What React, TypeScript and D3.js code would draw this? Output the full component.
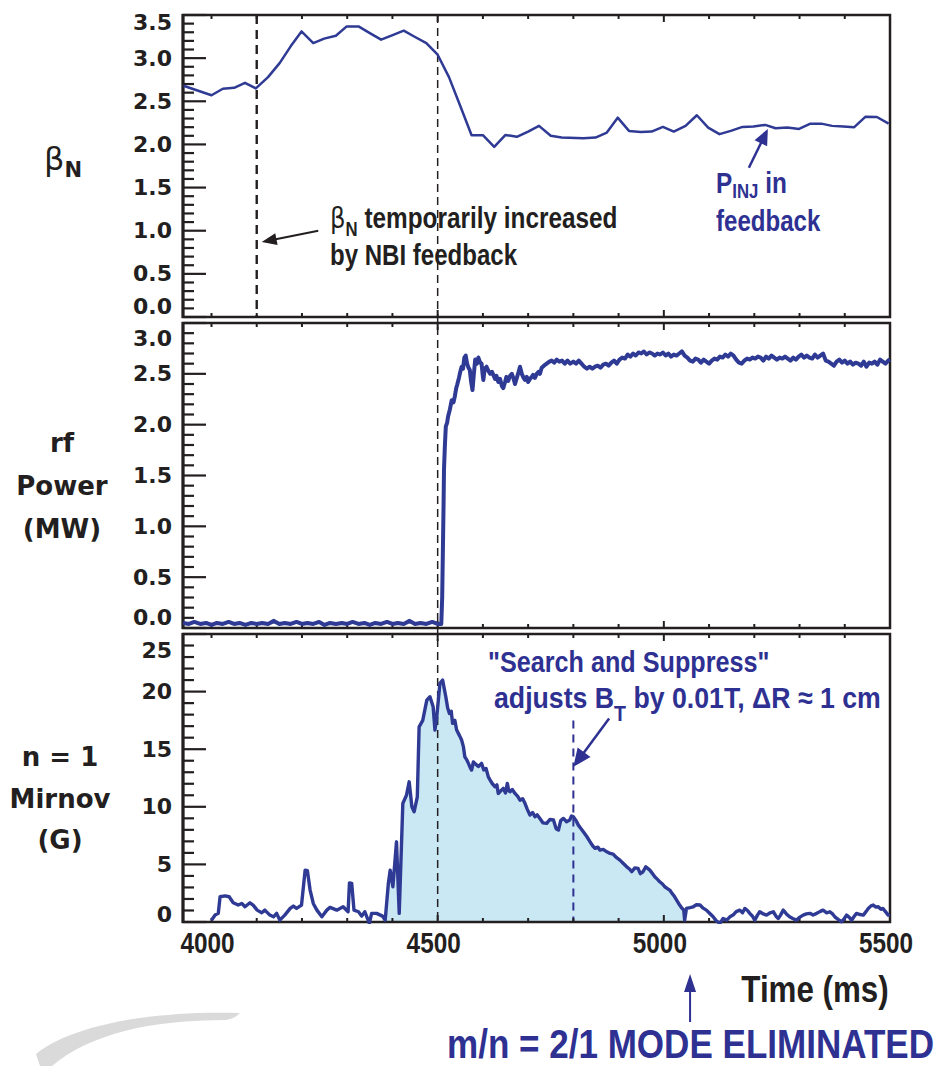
import React from 'react';
import * as d3 from 'd3';

// ---------------- data ----------------
const timeTickLabels = [4000, 4500, 5000, 5500];
const timeMinorTicks = [4000, 4100, 4200, 4300, 4400, 4500, 4600, 4700, 4800, 4900, 5000, 5100, 5200, 5300, 5400];
const timeMajorTicks = [4500, 5000];
const betaTicks = [0, 0.5, 1.0, 1.5, 2.0, 2.5, 3.0, 3.5];
const rfTicks = [0, 0.5, 1.0, 1.5, 2.0, 2.5, 3.0];
const mirnovTicks = [0, 5, 10, 15, 20, 25];

const betaN: [number, number][] = [
  [3938, 2.68], [4000, 2.57], [4025, 2.645], [4050, 2.656], [4074, 2.714], [4098, 2.649],
  [4125, 2.78], [4151, 2.945], [4175, 3.137], [4199, 3.31], [4225, 3.175], [4249, 3.226],
  [4275, 3.26], [4299, 3.368], [4325, 3.368], [4350, 3.29], [4375, 3.214], [4399, 3.264],
  [4425, 3.318], [4450, 3.245], [4475, 3.175], [4500, 3.04], [4525, 2.78], [4550, 2.445],
  [4575, 2.107], [4600, 2.107], [4625, 1.972], [4650, 2.11], [4675, 2.088], [4700, 2.149],
  [4724, 2.215], [4750, 2.1], [4774, 2.08], [4822, 2.073], [4849, 2.08], [4874, 2.137],
  [4898, 2.31], [4923, 2.157], [4949, 2.145], [4973, 2.149], [4998, 2.203], [5022, 2.149],
  [5048, 2.215], [5073, 2.338], [5098, 2.195], [5123, 2.119], [5148, 2.157], [5174, 2.203],
  [5198, 2.207], [5224, 2.226], [5247, 2.188], [5273, 2.195], [5299, 2.18], [5324, 2.241],
  [5348, 2.241], [5372, 2.215], [5397, 2.207], [5421, 2.2], [5446, 2.322], [5471, 2.318],
  [5497, 2.241],
];

const rfPower: [number, number][] = [
  [3937, 0.05], [3950, 0.04], [3962, 0.06], [3975, 0.04], [3988, 0.05], [4000, 0.03], [4012, 0.05],
  [4025, 0.04], [4038, 0.06], [4050, 0.04], [4062, 0.05], [4075, 0.03], [4088, 0.05], [4100, 0.04],
  [4112, 0.05], [4125, 0.04], [4138, 0.07], [4150, 0.04], [4162, 0.05], [4175, 0.04], [4188, 0.06],
  [4200, 0.04], [4212, 0.05], [4225, 0.04], [4238, 0.06], [4250, 0.03], [4262, 0.05], [4275, 0.04],
  [4288, 0.05], [4300, 0.04], [4312, 0.06], [4325, 0.04], [4338, 0.05], [4350, 0.03], [4362, 0.05],
  [4375, 0.04], [4388, 0.06], [4400, 0.04], [4412, 0.05], [4425, 0.04], [4438, 0.07], [4450, 0.04],
  [4462, 0.05], [4475, 0.04], [4488, 0.06], [4500, 0.04], [4508, 0.04],
  [4510, 0.3], [4511, 0.6], [4513, 1.2], [4514, 1.56], [4516, 1.8], [4518, 1.98], [4521, 2.02],
  [4523, 2.08], [4527, 2.15], [4531, 2.24], [4535, 2.22], [4538, 2.28], [4541, 2.36], [4543, 2.39],
  [4547, 2.46], [4550, 2.52], [4553, 2.57], [4556, 2.55], [4559, 2.66], [4562, 2.68], [4565, 2.6],
  [4568, 2.56], [4571, 2.54], [4574, 2.42], [4577, 2.34], [4580, 2.5], [4583, 2.64], [4587, 2.6],
  [4590, 2.66], [4594, 2.61], [4597, 2.6], [4600, 2.47], [4601, 2.44], [4604, 2.55], [4608, 2.57],
  [4612, 2.53], [4616, 2.5], [4620, 2.52], [4623, 2.49], [4627, 2.45], [4630, 2.48], [4634, 2.42],
  [4638, 2.45], [4642, 2.38], [4645, 2.36], [4649, 2.42], [4652, 2.47], [4656, 2.43], [4660, 2.48],
  [4664, 2.5], [4668, 2.45], [4671, 2.4], [4675, 2.46], [4679, 2.52], [4682, 2.57], [4686, 2.5],
  [4690, 2.46], [4693, 2.44], [4697, 2.47], [4700, 2.42], [4704, 2.45], [4708, 2.47], [4711, 2.49],
  [4715, 2.46], [4719, 2.5], [4723, 2.52], [4726, 2.5], [4730, 2.56], [4735, 2.58], [4741, 2.6],
  [4747, 2.62], [4752, 2.63], [4758, 2.61], [4763, 2.64], [4769, 2.62], [4775, 2.63], [4781, 2.6],
  [4787, 2.63], [4793, 2.6], [4800, 2.62], [4806, 2.6], [4812, 2.63], [4818, 2.6], [4824, 2.57],
  [4830, 2.55], [4836, 2.57], [4842, 2.55], [4848, 2.57], [4854, 2.58], [4860, 2.56], [4866, 2.59],
  [4872, 2.6], [4878, 2.58], [4884, 2.61], [4890, 2.63], [4896, 2.6], [4902, 2.64], [4908, 2.66],
  [4914, 2.65], [4920, 2.69], [4926, 2.67], [4932, 2.7], [4938, 2.68], [4944, 2.71], [4950, 2.7],
  [4956, 2.72], [4962, 2.69], [4968, 2.71], [4974, 2.7], [4980, 2.68], [4986, 2.7], [4992, 2.69],
  [4998, 2.71], [5004, 2.68], [5010, 2.7], [5016, 2.67], [5022, 2.69], [5028, 2.68], [5034, 2.7],
  [5040, 2.72], [5046, 2.68], [5052, 2.66], [5058, 2.63], [5064, 2.62], [5070, 2.65], [5076, 2.64],
  [5082, 2.61], [5088, 2.64], [5094, 2.62], [5100, 2.6], [5106, 2.63], [5112, 2.65], [5118, 2.64],
  [5124, 2.67], [5130, 2.66], [5136, 2.69], [5142, 2.67], [5148, 2.7], [5154, 2.68], [5160, 2.64],
  [5166, 2.61], [5172, 2.6], [5178, 2.63], [5184, 2.65], [5190, 2.64], [5196, 2.66], [5202, 2.65],
  [5208, 2.67], [5214, 2.66], [5220, 2.63], [5226, 2.67], [5232, 2.65], [5238, 2.68], [5244, 2.66],
  [5250, 2.64], [5256, 2.66], [5262, 2.65], [5268, 2.67], [5274, 2.65], [5280, 2.63], [5286, 2.66],
  [5292, 2.64], [5298, 2.67], [5304, 2.69], [5310, 2.66], [5316, 2.68], [5322, 2.66], [5328, 2.65],
  [5334, 2.69], [5340, 2.66], [5346, 2.68], [5352, 2.7], [5358, 2.63], [5364, 2.62], [5370, 2.6],
  [5376, 2.58], [5382, 2.62], [5388, 2.64], [5394, 2.61], [5400, 2.63], [5406, 2.6], [5412, 2.62],
  [5418, 2.59], [5424, 2.61], [5430, 2.6], [5436, 2.58], [5442, 2.62], [5448, 2.57], [5454, 2.61],
  [5460, 2.6], [5466, 2.62], [5472, 2.59], [5478, 2.64], [5484, 2.62], [5490, 2.6], [5496, 2.63],
  [5500, 2.64],
];

const mirnov: [number, number][] = [
  [4000, 0.16], [4008, 0.6], [4015, 0.75], [4019, 2.19], [4030, 2.27], [4039, 2.19], [4048, 1.67],
  [4059, 1.47], [4067, 1.61], [4074, 1.32], [4085, 1.67], [4092, 1.47], [4101, 1.03], [4111, 0.8],
  [4118, 1.03], [4129, 0.6], [4137, 0.45], [4144, 0.75], [4151, 0.16], [4162, 0.6], [4174, 1.18],
  [4181, 1.38], [4188, 1.18], [4199, 1.47], [4207, 4.5], [4212, 4.45], [4218, 2.77], [4225, 1.61],
  [4233, 1.03], [4244, 0.45], [4255, 1.03], [4262, 1.27], [4277, 1.03], [4291, 1.32], [4302, 0.89],
  [4305, 3.4], [4310, 3.35], [4315, 1.03], [4325, 0.89], [4332, 0.51], [4339, 0.89], [4349, -0.12],
  [4354, 0.75], [4365, 0.75], [4378, 0.51], [4384, 0.16], [4391, 3.35], [4395, 4.5], [4401, 3.06],
  [4409, 6.96], [4415, 0.75], [4423, 10.3], [4431, 11.0], [4437, 12.17], [4443, 10.0], [4448, 9.57],
  [4455, 10.87], [4459, 16.94], [4467, 17.5], [4476, 19.26], [4483, 19.55], [4490, 18.68], [4494, 16.66],
  [4498, 17.81], [4505, 20.71], [4511, 21.0], [4518, 19.55], [4522, 18.6], [4526, 18.1], [4530, 18.3],
  [4533, 17.24], [4538, 17.5], [4542, 16.66], [4548, 16.2], [4553, 15.79], [4557, 15.2], [4560, 14.34],
  [4564, 14.1], [4568, 13.77], [4572, 13.4], [4575, 13.19], [4579, 13.9], [4582, 13.77], [4590, 13.5],
  [4597, 13.77], [4602, 13.2], [4607, 13.33], [4612, 12.6], [4616, 12.32], [4621, 12.0], [4627, 11.74],
  [4631, 11.9], [4634, 11.16], [4640, 11.4], [4645, 11.6], [4650, 11.2], [4654, 12.03], [4657, 11.4],
  [4660, 11.3], [4665, 11.5], [4671, 11.16], [4677, 10.9], [4682, 10.58], [4688, 10.7], [4693, 10.3],
  [4698, 9.8], [4704, 9.28], [4710, 9.5], [4715, 9.13], [4720, 9.3], [4726, 8.99], [4733, 8.6],
  [4741, 8.56], [4748, 8.9], [4756, 8.85], [4762, 8.1], [4767, 7.98], [4772, 8.8], [4778, 8.99],
  [4785, 8.7], [4792, 8.85], [4796, 9.2], [4800, 9.13], [4806, 8.8], [4811, 8.41], [4817, 8.1],
  [4822, 7.83], [4830, 7.4], [4837, 6.96], [4843, 6.6], [4848, 6.39], [4854, 6.5], [4859, 6.24],
  [4866, 6.3], [4874, 6.09], [4881, 5.95], [4888, 5.89], [4895, 5.6], [4903, 5.37], [4910, 5.1],
  [4918, 4.79], [4924, 4.6], [4929, 4.36], [4936, 4.7], [4943, 4.65], [4948, 4.2], [4954, 4.36],
  [4960, 4.8], [4969, 4.5], [4975, 4.2], [4980, 3.92], [4986, 3.7], [4991, 3.49], [4997, 3.3],
  [5002, 3.06], [5008, 2.9], [5013, 2.77], [5018, 2.5], [5024, 2.19], [5030, 1.8], [5035, 1.47],
  [5040, 1.2], [5044, 1.03], [5046, 0.16], [5050, 1.18], [5058, 1.25], [5065, 1.32], [5072, 1.5],
  [5080, 1.47], [5087, 1.2], [5094, 1.03], [5100, 0.8], [5109, 0.45], [5116, 0.1], [5124, -0.12],
  [5131, 0.3], [5139, 0.16], [5146, 0.45], [5153, 0.6], [5160, 0.9], [5168, 1.03], [5174, 0.8],
  [5179, 1.18], [5185, 1.0], [5190, 0.75], [5196, 0.5], [5201, 0.16], [5207, 0.6], [5212, 0.89],
  [5220, 0.7], [5227, 0.6], [5235, 0.8], [5242, 0.89], [5248, 0.5], [5253, 0.31], [5258, 0.6],
  [5264, 1.03], [5271, 0.7], [5278, 0.45], [5285, 0.3], [5293, 0.16], [5300, 0.4], [5308, 0.6],
  [5315, 0.7], [5323, 0.75], [5330, 0.6], [5338, 0.75], [5345, 0.9], [5352, 1.03], [5360, 0.8],
  [5367, 0.89], [5373, 0.7], [5378, 0.45], [5386, 0.2], [5393, 0.02], [5399, 0.3], [5404, 0.6],
  [5410, 0.4], [5415, 0.16], [5421, 0.5], [5426, 0.75], [5434, 0.65], [5441, 0.6], [5447, 0.9],
  [5452, 1.18], [5458, 1.4], [5463, 1.47], [5469, 1.3], [5474, 1.32], [5480, 1.1], [5484, 1.18],
  [5490, 0.9], [5496, 0.6], [5500, 0.6],
];

const fillStart = 4370;
const fillEnd = 5046;
const feedbackMarker = 4100;
const rfOnMarker = 4500;
const searchMarker = 4800;
const modeGoneTime = 5058;

// ---------------- styles ----------------
const NAVY = '#2e3192';
const LINE = '#2f3a94';
const INK = '#231f20';
const FILL = '#c9e8f4';
const WIDE = "'DejaVu Sans', 'Liberation Sans', sans-serif";
const NARROW = "'Liberation Sans', Arial, sans-serif";

const X0 = 183;
const X1 = 890;

const x = d3.scaleLinear().domain([3937, 5500]).range([X0, X1]);

type PanelSpec = {
  id: string;
  top: number;
  bottom: number;
  domain: [number, number];
  ticks: number[];
  minorStep: number;
  fmt: (v: number) => string;
  nudgeTop: number;
  nudgeBottom: number;
};

const panels: PanelSpec[] = [
  { id: 'beta', top: 15, bottom: 317, domain: [0, 3.5], ticks: betaTicks, minorStep: 0.1, fmt: (v) => v.toFixed(1), nudgeTop: 7, nudgeBottom: -11 },
  { id: 'rf', top: 323, bottom: 628, domain: [0, 3.0], ticks: rfTicks, minorStep: 0.1, fmt: (v) => v.toFixed(1), nudgeTop: 15, nudgeBottom: -11 },
  { id: 'mir', top: 634, bottom: 922, domain: [0, 25], ticks: mirnovTicks, minorStep: 1, fmt: (v) => String(v), nudgeTop: 16, nudgeBottom: -8 },
];

const yScales = panels.map((p) => d3.scaleLinear().domain(p.domain).range([p.bottom, p.top]));
const [yBeta, yRf, yMir] = yScales;

function arrowPath(x1: number, y1: number, x2: number, y2: number, len: number, hw: number) {
  const dx = x2 - x1;
  const dy = y2 - y1;
  const d = Math.hypot(dx, dy);
  const ux = dx / d;
  const uy = dy / d;
  const bx = x2 - ux * len;
  const by = y2 - uy * len;
  return {
    shaft: { x1, y1, x2: bx + ux * 2, y2: by + uy * 2 },
    head: `M${x2},${y2} L${bx - uy * hw},${by + ux * hw} L${bx + uy * hw},${by - ux * hw} Z`,
  };
}

function Arrow({ x1, y1, x2, y2, color, width, len, hw }: any) {
  const a = arrowPath(x1, y1, x2, y2, len, hw);
  return (
    <g>
      <line {...a.shaft} stroke={color} strokeWidth={width} />
      <path d={a.head} fill={color} />
    </g>
  );
}

// condensed bold text (Helvetica Condensed look) via horizontal scaling
function NText({ x: tx, y: ty, sx = 0.84, size, fill, anchor = 'start', children }: any) {
  return (
    <g transform={`translate(${tx},${ty}) scale(${sx},1)`}>
      <text x={0} y={0} textAnchor={anchor} fontFamily={NARROW} fontWeight="bold" fontSize={size} fill={fill}>
        {children}
      </text>
    </g>
  );
}

function Panel({ p, y }: { p: PanelSpec; y: d3.ScaleLinear<number, number> }) {
  const nMinor = Math.round((p.domain[1] - p.domain[0]) / p.minorStep);
  const minors = d3.range(0, nMinor + 1).map((i) => p.domain[0] + i * p.minorStep);
  const majorSet = new Set(p.ticks.map((t) => t.toFixed(3)));
  return (
    <g>
      {minors.map((v, i) => {
        const major = majorSet.has(v.toFixed(3));
        const yy = y(v);
        return <line key={'ym' + i} x1={X0} x2={X0 + (major ? 23 : 11)} y1={yy} y2={yy} stroke={INK} strokeWidth={2.2} />;
      })}
      {timeMinorTicks.map((t, i) => {
        const major = timeMajorTicks.includes(t);
        const xx = x(t);
        const L = major ? 7 : 4;
        return (
          <g key={'xt' + i}>
            <line x1={xx} x2={xx} y1={p.top} y2={p.top + L} stroke={INK} strokeWidth={2} />
            <line x1={xx} x2={xx} y1={p.bottom} y2={p.bottom - L} stroke={INK} strokeWidth={2} />
          </g>
        );
      })}
      <rect x={X0} y={p.top} width={X1 - X0} height={p.bottom - p.top} fill="none" stroke={INK} strokeWidth={2.5} />
      <line x1={X0} x2={X0} y1={p.top - 1} y2={p.bottom + 1} stroke={INK} strokeWidth={3} />
      {p.ticks.map((v, i) => {
        let yy = y(v);
        if (i === 0) yy += p.nudgeBottom;
        if (i === p.ticks.length - 1) yy += p.nudgeTop;
        return (
          <text key={'yl' + i} x={172} y={yy} textAnchor="end" dominantBaseline="central" fontFamily={WIDE} fontWeight="bold" fontSize={22} fill={INK}>
            {p.fmt(v)}
          </text>
        );
      })}
    </g>
  );
}

export default function App() {
  const lineGen = (y: d3.ScaleLinear<number, number>) =>
    d3.line<[number, number]>().x((d) => x(d[0])).y((d) => y(d[1]));
  const areaGen = d3
    .area<[number, number]>()
    .x((d) => x(d[0]))
    .y0(yMir(0))
    .y1((d) => yMir(Math.max(0, d[1])));
  const fillData = mirnov.filter((d) => d[0] >= fillStart && d[0] <= fillEnd);

  const blackArrow = { x1: x(4236), y1: yBeta(1.0), x2: x(4111), y2: yBeta(0.87) };
  const pinjArrow = { x1: x(5188), y1: yBeta(1.73), x2: x(5230), y2: yBeta(2.18) };
  const searchArrow = { x1: x(4879), y1: yMir(17.67), x2: x(4800), y2: yMir(13.47) };

  return (
    <svg width={936} height={1066} style={{ position: 'absolute', left: 0, top: 0, background: '#fff' }}>
      <defs>
        {panels.map((p) => (
          <clipPath id={'clip-' + p.id} key={p.id}>
            <rect x={X0} y={p.top - 2} width={X1 - X0 + 6} height={p.bottom - p.top + 4} />
          </clipPath>
        ))}
      </defs>

      {/* faint logo swoosh */}
      <path d="M 36 1054 C 70 1026, 150 1010, 240 1013 C 236 1017, 232 1019, 226 1020 C 150 1020, 90 1034, 52 1066 L 40 1066 Z" fill="#dadada" />

      {/* Mirnov fill */}
      <g clipPath="url(#clip-mir)">
        <path d={areaGen(fillData) || ''} fill={FILL} />
      </g>

      {/* vertical markers */}
      <line x1={x(feedbackMarker)} x2={x(feedbackMarker)} y1={15} y2={317} stroke={INK} strokeWidth={2.4} strokeDasharray="9 6" />
      <line x1={x(rfOnMarker)} x2={x(rfOnMarker)} y1={15} y2={922} stroke={INK} strokeWidth={1.5} strokeDasharray="8 5" />
      <line x1={x(searchMarker)} x2={x(searchMarker)} y1={yMir(17.5)} y2={922} stroke={NAVY} strokeWidth={2} strokeDasharray="8 6" />

      {panels.map((p, i) => (
        <Panel key={p.id} p={p} y={yScales[i]} />
      ))}

      {/* traces */}
      <g clipPath="url(#clip-beta)">
        <path d={lineGen(yBeta)(betaN) || ''} fill="none" stroke={LINE} strokeWidth={2.5} strokeLinejoin="round" />
      </g>
      <g clipPath="url(#clip-rf)">
        <path d={lineGen(yRf)(rfPower) || ''} fill="none" stroke={LINE} strokeWidth={4} strokeLinejoin="round" />
      </g>
      <g clipPath="url(#clip-mir)">
        <path d={lineGen(yMir)(mirnov) || ''} fill="none" stroke={LINE} strokeWidth={3.4} strokeLinejoin="round" />
      </g>

      {/* y titles */}
      <text x={44} y={170} fontFamily={WIDE} fontSize={32} fill={INK}>
        β<tspan dy={7} fontSize={21} fontWeight="bold">N</tspan>
      </text>
      <g fontFamily={WIDE} fontWeight="bold" fontSize={26} fill={INK} textAnchor="middle">
        <text x={62} y={452}>rf</text>
        <text x={62} y={495}>Power</text>
        <text x={62} y={538}>(MW)</text>
        <text x={60} y={766}>n = 1</text>
        <text x={60} y={808}>Mirnov</text>
        <text x={60} y={849}>(G)</text>
      </g>

      {/* x tick labels */}
      {timeTickLabels.map((t) => (
        <NText key={t} x={x(t) - 4} y={953} sx={0.84} size={29} fill={INK} anchor="middle">
          {t}
        </NText>
      ))}
      <NText x={815} y={1002} sx={0.87} size={36} fill={INK} anchor="middle">
        Time (ms)
      </NText>

      {/* annotations */}
      <Arrow {...blackArrow} color={INK} width={2} len={15} hw={6} />
      <NText x={330} y={228} sx={0.84} size={29} fill={INK}>
        <tspan fontFamily={WIDE} fontWeight="normal">β</tspan>
        <tspan dy={8} fontSize={20}>N</tspan>
        <tspan dy={-8}> temporarily increased</tspan>
      </NText>
      <NText x={330} y={265} sx={0.83} size={29} fill={INK}>
        by NBI feedback
      </NText>

      <Arrow {...pinjArrow} color={NAVY} width={2.5} len={16} hw={7} />
      <NText x={716} y={193} sx={0.84} size={29} fill={NAVY}>
        P<tspan dy={5} fontSize={20}>INJ</tspan>
        <tspan dy={-5}> in</tspan>
      </NText>
      <NText x={716} y={231} sx={0.83} size={29} fill={NAVY}>
        feedback
      </NText>

      <NText x={488} y={672} sx={0.84} size={30} fill={NAVY}>
        "Search and Suppress"
      </NText>
      <NText x={494} y={708} sx={0.89} size={30} fill={NAVY}>
        adjusts B<tspan dy={13} fontSize={22}>T</tspan>
        <tspan dy={-13}> by 0.01T, ΔR ≈ 1 cm</tspan>
      </NText>
      <Arrow {...searchArrow} color={NAVY} width={2.5} len={18} hw={8} />

      {/* bottom note */}
      <Arrow x1={x(modeGoneTime)} y1={1022} x2={x(modeGoneTime)} y2={974} color={NAVY} width={2} len={18} hw={6} />
      <NText x={447} y={1058} sx={0.855} size={41} fill={NAVY}>
        m/n = 2/1 MODE ELIMINATED
      </NText>
    </svg>
  );
}
